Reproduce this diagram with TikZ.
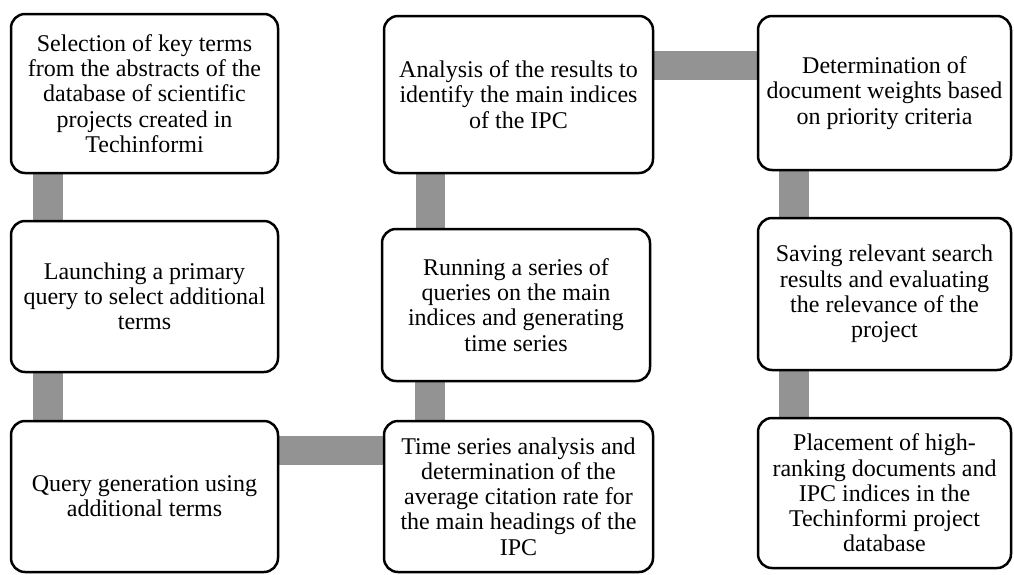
\documentclass[tikz,border=0pt]{standalone}
\usepackage{fontspec}
\setmainfont{Liberation Serif}
\usetikzlibrary{backgrounds}
\definecolor{bargray}{RGB}{147,147,147}
\tikzset{
 box/.style={draw=black, line width=2.5pt, rounded corners=14pt, fill=white, align=center, inner sep=0pt, font=\fontsize{24}{25.2}\selectfont},
 bar/.style={draw=bargray, line width=29.5pt}
}
\begin{document}
\begin{tikzpicture}[x=1pt,y=-1pt]
\useasboundingbox (0,0) rectangle (1014,574);
\node[box, minimum width=267pt, minimum height=159pt] (b1) at (144.5,93.5) {Selection of key terms\\from the abstracts of the\\database of scientific\\projects created in\\Techinformi};
\node[box, minimum width=267pt, minimum height=151pt] (b2) at (144.5,296.5) {Launching a primary\\query to select additional\\terms};
\node[box, minimum width=267pt, minimum height=151pt] (b3) at (144.5,496.5) {Query generation using\\additional terms};
\node[box, minimum width=269pt, minimum height=157pt] (b4) at (518.5,94.5) {Analysis of the results to\\identify the main indices\\of the IPC};
\node[box, minimum width=268pt, minimum height=152pt] (b5) at (516,305) {Running a series of\\queries on the main\\indices and generating\\time series};
\node[box, minimum width=269pt, minimum height=151pt] (b6) at (518.5,496.5) {Time series analysis and\\determination of the\\average citation rate for\\the main headings of the\\IPC};
\node[box, minimum width=253pt, minimum height=154pt] (b7) at (884.5,93) {Determination of\\document weights based\\on priority criteria};
\node[box, minimum width=253pt, minimum height=152pt] (b8) at (884.5,294) {Saving relevant search\\results and evaluating\\the relevance of the\\project};
\node[box, minimum width=253pt, minimum height=150pt] (b9) at (884.5,493) {Placement of high-\\ranking documents and\\IPC indices in the\\Techinformi project\\database};
\begin{scope}[on background layer]
\draw[bar] ([xshift=38pt]b1.south west) -- ([xshift=38pt]b1.south west |- b2.north);
\draw[bar] ([xshift=38pt]b2.south west) -- ([xshift=38pt]b2.south west |- b3.north);
\draw[bar] ([yshift=-30.5pt]b3.north east) -- ([yshift=-30.5pt]b3.north east -| b6.west);
\draw[bar] ([xshift=47pt]b6.north west) -- ([xshift=47pt]b6.north west |- b5.south);
\draw[bar] ([xshift=49.5pt]b5.north west) -- ([xshift=49.5pt]b5.north west |- b4.south);
\draw[bar] ([yshift=-50.5pt]b4.north east) -- ([yshift=-50.5pt]b4.north east -| b7.west);
\draw[bar] ([xshift=37pt]b7.south west) -- ([xshift=37pt]b7.south west |- b8.north);
\draw[bar] ([xshift=37pt]b8.south west) -- ([xshift=37pt]b8.south west |- b9.north);
\end{scope}
\end{tikzpicture}
\end{document}
